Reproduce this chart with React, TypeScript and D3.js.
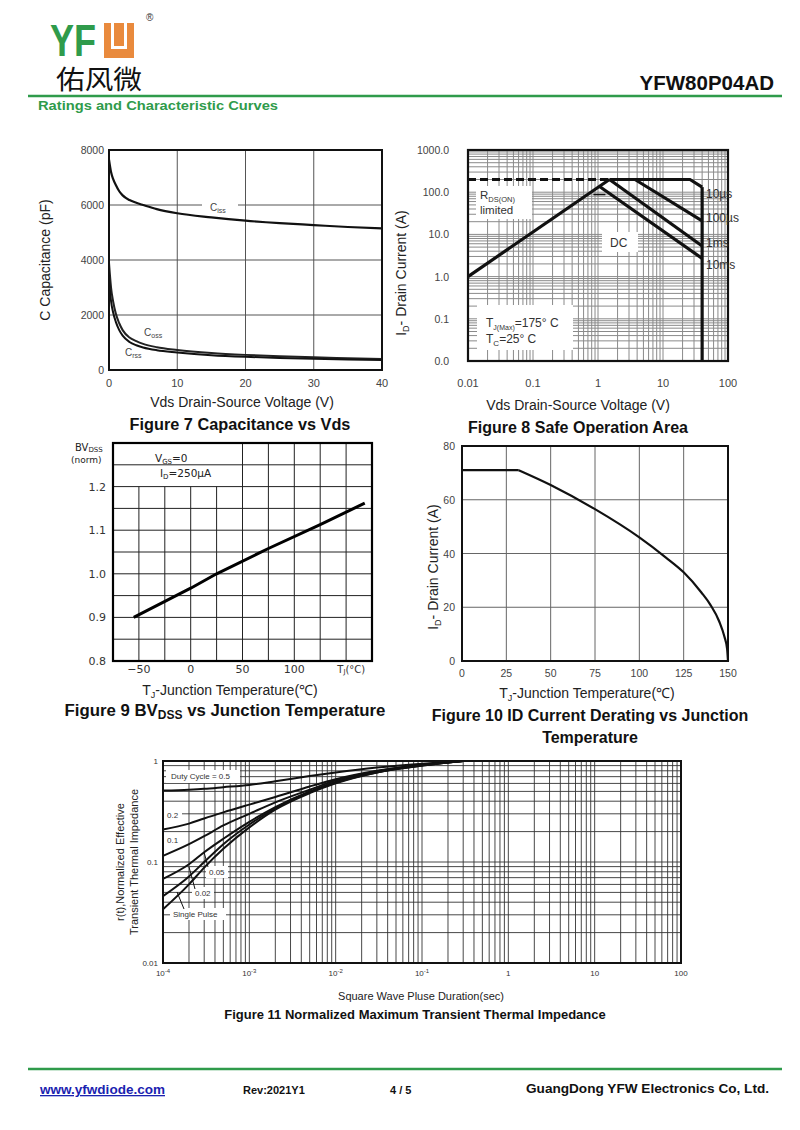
import React from "react";
import * as d3 from "d3";

const SANS = "'Liberation Sans', Arial, Helvetica, sans-serif";
const CJK = "'Noto Sans CJK SC', sans-serif";
const GREEN = "#2f9b4b";
const ORANGE = "#e98a3d";

// Figure 7 - capacitance vs Vds
const capVds = [0, 0.3, 0.6, 1, 1.5, 2, 3, 4, 5, 7, 10, 15, 20, 25, 30, 35, 40];
const capCiss = [7650, 7200, 6950, 6730, 6500, 6350, 6180, 6080, 6000, 5850, 5700, 5550, 5430, 5340, 5270, 5200, 5150];
const capCoss = [3900, 3000, 2500, 2050, 1700, 1450, 1180, 1050, 950, 830, 730, 620, 550, 500, 460, 430, 400];
const capCrss = [3300, 2500, 2100, 1750, 1450, 1250, 1020, 900, 820, 720, 640, 540, 480, 440, 410, 380, 360];
const capXTicks = [0, 10, 20, 30, 40];
const capYTicks = [0, 2000, 4000, 6000, 8000];

// Figure 8 - safe operating area
const soaXTicks = [0.01, 0.1, 1, 10, 100];
const soaXLabels = ["0.01", "0.1", "1", "10", "100"];
const soaYTicks = [0.01, 0.1, 1, 10, 100, 1000];
const soaYLabels = ["0.0", "0.1", "1.0", "10.0", "100.0", "1000.0"];
const soaRdsLimit = [[0.01, 1], [1.5, 200]];
const soaRdsDash = [[0.01, 200], [1.5, 200]];
const soa10us = [[1.5, 200], [26, 200], [40, 132]];
const soa100us = [[3.7, 200], [40, 21]];
const soa1ms = [[1.5, 200], [40, 5.3]];
const soa10ms = [[1.07, 135], [40, 2.7]];
const soaDC = [[0.85, 88], [1.3, 88]];
const soaVmax = [[40, 132], [40, 0.01]];

// Figure 9 - BVdss vs Tj
const bvTemp = [-55, 0, 25, 75, 125, 168];
const bvNorm = [0.9, 0.967, 1.0, 1.058, 1.113, 1.162];
const bvXTicks = [-50, 0, 50, 100];
const bvYTicks = [0.8, 0.9, 1.0, 1.1, 1.2];

// Figure 10 - Id derating
const idTemp = [0, 32, 50, 75, 100, 115, 125, 135, 140, 145, 148, 149.5, 150];
const idAmps = [71, 71, 65.5, 56.5, 46, 38.5, 33, 25.5, 21, 14.8, 9, 4.5, 0];
const idXTicks = [0, 25, 50, 75, 100, 125, 150];
const idYTicks = [0, 20, 40, 60, 80];

// Figure 11 - transient thermal impedance
const zthT = [1e-4, 2e-4, 3e-4, 5e-4, 1e-3, 2e-3, 5e-3, 1e-2, 3e-2, 1e-1, 3e-1];
const zthD50 = [0.51, 0.52, 0.53, 0.55, 0.58, 0.63, 0.71, 0.77, 0.86, 0.94, 1.0];
const zthD20 = [0.21, 0.24, 0.27, 0.31, 0.37, 0.44, 0.56, 0.66, 0.8, 0.92, 1.0];
const zthD10 = [0.115, 0.15, 0.18, 0.23, 0.3, 0.39, 0.52, 0.64, 0.79, 0.91, 1.0];
const zthD05 = [0.068, 0.095, 0.125, 0.17, 0.25, 0.35, 0.5, 0.62, 0.78, 0.91, 1.0];
const zthD02 = [0.046, 0.072, 0.1, 0.15, 0.235, 0.34, 0.49, 0.61, 0.77, 0.9, 1.0];
const zthSingle = [0.034, 0.06, 0.088, 0.135, 0.22, 0.33, 0.48, 0.6, 0.77, 0.9, 1.0];
const zthXTicks = [1e-4, 1e-3, 1e-2, 1e-1, 1, 10, 100];
const zthXBase = ["10", "10", "10", "10", "1", "10", "100"];
const zthXExp = ["-4", "-3", "-2", "-1", "", "", ""];
const zthYTicks = [0.01, 0.1, 1];
const zthYLabels = ["0.01", "0.1", "1"];

function Header() {
  return (
    <g>
      <text x={50} y={56} fontFamily={SANS} fontWeight="bold" fontSize={44} fill={GREEN} textLength={46} lengthAdjust="spacingAndGlyphs">YF</text>
      <rect x={104} y={23} width={30} height={35} fill={ORANGE} />
      <rect x={111} y={23} width={16} height={26} fill="#fff" />
      <rect x={114} y={23} width={10} height={23} fill={ORANGE} />
      <text x={146} y={21} fontFamily={SANS} fontSize={10} fill="#333">®</text>
      <text x={56} y={89} fontFamily={CJK} fontSize={26} fill="#111" textLength={86} lengthAdjust="spacingAndGlyphs">佑风微</text>
      <text x={774} y={90} textAnchor="end" fontFamily={SANS} fontWeight="bold" fontSize={20.5} fill="#111">YFW80P04AD</text>
      <line x1={28} x2={782} y1={96} y2={96} stroke={GREEN} strokeWidth={2.5} />
      <text x={38} y={110} fontFamily={SANS} fontWeight="bold" fontSize={13} fill={GREEN} textLength={240} lengthAdjust="spacingAndGlyphs">Ratings and Characteristic Curves</text>
    </g>
  );
}

function Footer() {
  return (
    <g fontFamily={SANS} fontWeight="bold">
      <line x1={28} x2={782} y1={1069} y2={1069} stroke={GREEN} strokeWidth={2.5} />
      <text x={40} y={1094} fontSize={13} fill="#1a22b0" textDecoration="underline" textLength={125} lengthAdjust="spacingAndGlyphs">www.yfwdiode.com</text>
      <text x={243} y={1094} fontSize={11} fill="#111">Rev:2021Y1</text>
      <text x={390} y={1094} fontSize={11} fill="#111">4 / 5</text>
      <text x={526} y={1093} fontSize={13} fill="#111" textLength={243} lengthAdjust="spacingAndGlyphs">GuangDong YFW Electronics Co, Ltd.</text>
    </g>
  );
}

function Fig7() {
  const x = d3.scaleLinear().domain([0, 40]).range([109, 382]);
  const y = d3.scaleLinear().domain([0, 8000]).range([370, 150]);
  const line = (vals: number[]) =>
    d3.line<number>().x((_, i) => x(capVds[i])).y((d) => y(d)).curve(d3.curveMonotoneX)(vals);
  return (
    <g fontFamily={SANS}>
      {capXTicks.map((t) => (
        <line key={"vx" + t} x1={x(t)} x2={x(t)} y1={y(8000)} y2={y(0)} stroke="#555" />
      ))}
      {capYTicks.map((t) => (
        <line key={"hy" + t} x1={x(0)} x2={x(40)} y1={y(t)} y2={y(t)} stroke="#555" />
      ))}
      <rect x={202} y={200} width={36} height={14} fill="#fff" />
      <text x={210} y={211} fontSize={10} fill="#444">C<tspan fontSize={7} dy={2}>iss</tspan></text>
      <path d={line(capCiss)} fill="none" stroke="#111" strokeWidth={2.2} />
      <path d={line(capCoss)} fill="none" stroke="#222" strokeWidth={2} />
      <path d={line(capCrss)} fill="none" stroke="#111" strokeWidth={2} />
      <text x={144} y={336} fontSize={10} fill="#444">C<tspan fontSize={7} dy={2}>oss</tspan></text>
      <text x={125} y={356} fontSize={10} fill="#444">C<tspan fontSize={7} dy={2}>rss</tspan></text>
      <rect x={x(0)} y={y(8000)} width={x(40) - x(0)} height={y(0) - y(8000)} fill="none" stroke="#111" strokeWidth={2} />
      {capYTicks.map((t) => (
        <text key={"yl" + t} x={104} y={y(t) + 4} textAnchor="end" fontSize={10.5} fill="#444">{t}</text>
      ))}
      {capXTicks.map((t) => (
        <text key={"xl" + t} x={x(t)} y={387} textAnchor="middle" fontSize={11} fill="#444">{t}</text>
      ))}
      <text x={242} y={407} textAnchor="middle" fontSize={14} fill="#222">Vds Drain-Source Voltage (V)</text>
      <text transform="translate(50,260) rotate(-90)" textAnchor="middle" fontSize={14} fill="#222">C Capacitance (pF)</text>
      <text x={240} y={430} textAnchor="middle" fontSize={16.3} fontWeight="bold" fill="#111">Figure 7 Capacitance vs Vds</text>
    </g>
  );
}

function Fig8() {
  const x = d3.scaleLog().domain([0.01, 100]).range([468, 728]);
  const y = d3.scaleLog().domain([0.01, 1000]).range([361, 150]);
  const line = d3.line<number[]>().x((d) => x(d[0])).y((d) => y(d[1]));
  const xg = x.ticks();
  const yg = y.ticks();
  return (
    <g fontFamily={SANS}>
      {xg.map((t, i) => (
        <line key={"gx" + i} x1={x(t)} x2={x(t)} y1={150} y2={361} stroke="#8a8a8a" strokeWidth={1} />
      ))}
      {yg.map((t, i) => (
        <line key={"gy" + i} x1={468} x2={728} y1={y(t)} y2={y(t)} stroke="#8a8a8a" strokeWidth={1} />
      ))}
      <rect x={476} y={186} width={56} height={33} fill="#fff" />
      <rect x={602} y={232} width={36} height={20} fill="#fff" />
      <rect x={477} y={305} width={96} height={45} fill="#fff" />
      <path d={line(soaRdsDash)} fill="none" stroke="#111" strokeWidth={3} strokeDasharray="8,4" />
      <path d={line(soaRdsLimit)} fill="none" stroke="#111" strokeWidth={3.2} />
      <path d={line(soa10us)} fill="none" stroke="#111" strokeWidth={3.2} />
      <path d={line(soa100us)} fill="none" stroke="#111" strokeWidth={3.2} />
      <path d={line(soa1ms)} fill="none" stroke="#111" strokeWidth={3.2} />
      <path d={line(soa10ms)} fill="none" stroke="#111" strokeWidth={3.2} />
      <path d={line(soaDC)} fill="none" stroke="#111" strokeWidth={1.5} />
      <path d={line(soaVmax)} fill="none" stroke="#111" strokeWidth={3.2} />
      <rect x={468} y={150} width={260} height={211} fill="none" stroke="#111" strokeWidth={2.2} />
      <text x={480} y={199} fontSize={11.5} fill="#333">R<tspan fontSize={7.5} dy={3}>DS(ON)</tspan></text>
      <text x={480} y={214} fontSize={11.5} fill="#333">limited</text>
      <text x={610} y={247} fontSize={12} fill="#333">DC</text>
      <text x={486} y={327} fontSize={12} fill="#333">T<tspan fontSize={7} dy={3}>J(Max)</tspan><tspan dy={-3}>=175° C</tspan></text>
      <text x={486} y={343} fontSize={12} fill="#333">T<tspan fontSize={8} dy={3}>C</tspan><tspan dy={-3}>=25° C</tspan></text>
      <text x={706} y={198} fontSize={12} fill="#333">10µs</text>
      <text x={706} y={222} fontSize={12} fill="#333">100µs</text>
      <text x={706} y={247} fontSize={12} fill="#333">1ms</text>
      <text x={706} y={269} fontSize={12} fill="#333">10ms</text>
      {soaYTicks.map((t, i) => (
        <text key={"yl" + i} x={449} y={y(t) + 4} textAnchor="end" fontSize={10.5} fill="#444">{soaYLabels[i]}</text>
      ))}
      {soaXTicks.map((t, i) => (
        <text key={"xl" + i} x={x(t)} y={387} textAnchor="middle" fontSize={11} fill="#444">{soaXLabels[i]}</text>
      ))}
      <text x={578} y={410} textAnchor="middle" fontSize={14} fill="#222">Vds Drain-Source Voltage (V)</text>
      <text transform="translate(406,273) rotate(-90)" textAnchor="middle" fontSize={14} fill="#222">I<tspan fontSize={9} dy={3}>D</tspan><tspan dy={-3}>- Drain Current (A)</tspan></text>
      <text x={578} y={433} textAnchor="middle" fontSize={16} fontWeight="bold" fill="#111">Figure 8 Safe Operation Area</text>
    </g>
  );
}

function Fig9() {
  const x = d3.scaleLinear().domain([-75, 175]).range([113, 372]);
  const y = d3.scaleLinear().domain([0.8, 1.3]).range([661, 443]);
  const vgrid = d3.range(-50, 175, 25);
  const hgrid = d3.range(0.85, 1.3, 0.05);
  const line = d3.line<number>().x((_, i) => x(bvTemp[i])).y((d) => y(d));
  const F9 = "'DejaVu Sans', Verdana, sans-serif";
  return (
    <g fontFamily={F9}>
      {vgrid.map((t) => (
        <line key={"v" + t} x1={x(t)} x2={x(t)} y1={t <= 25 ? y(1.2) : y(1.3)} y2={y(0.8)} stroke="#222" strokeWidth={1} />
      ))}
      {hgrid.map((t, i) => (
        <line key={"h" + i} x1={x(-75)} x2={x(175)} y1={y(t)} y2={y(t)} stroke="#222" strokeWidth={1} />
      ))}
      <path d={line(bvNorm)} fill="none" stroke="#000" strokeWidth={3} />
      <rect x={x(-75)} y={y(1.3)} width={x(175) - x(-75)} height={y(0.8) - y(1.3)} fill="none" stroke="#000" strokeWidth={2.2} />
      <text x={155} y={462} fontSize={10.5} fill="#222">V<tspan fontSize={7} dy={2}>GS</tspan><tspan dy={-2}>=0</tspan></text>
      <text x={160} y={477} fontSize={10.5} fill="#222">I<tspan fontSize={7} dy={2}>D</tspan><tspan dy={-2}>=250µA</tspan></text>
      <text x={75} y={451} fontSize={10} fill="#222">BV<tspan fontSize={7} dy={1}>DSS</tspan></text>
      <text x={71} y={463} fontSize={9} fill="#222">(norm)</text>
      {bvYTicks.map((t) => (
        <text key={"yl" + t} x={106} y={y(t) + 4} textAnchor="end" fontSize={11} fill="#333">{t.toFixed(1)}</text>
      ))}
      {bvXTicks.map((t) => (
        <text key={"xl" + t} x={x(t)} y={673} textAnchor="middle" fontSize={11} fill="#333">{t < 0 ? "−" + Math.abs(t) : t}</text>
      ))}
      <text x={x(155)} y={673} textAnchor="middle" fontSize={10} fill="#333">T<tspan fontSize={7} dy={1}>J</tspan><tspan dy={-1}>(°C)</tspan></text>
      <text x={230} y={695} textAnchor="middle" fontFamily={SANS} fontSize={14} fill="#222">T<tspan fontSize={9} dy={3}>J</tspan><tspan dy={-3}>-Junction Temperature(℃)</tspan></text>
      <text x={225} y={716} textAnchor="middle" fontFamily={SANS} fontSize={16.8} fontWeight="bold" fill="#111">Figure 9 BV<tspan fontSize={12} dy={3}>DSS</tspan><tspan dy={-3}> vs Junction Temperature</tspan></text>
    </g>
  );
}

function Fig10() {
  const x = d3.scaleLinear().domain([0, 150]).range([462, 728]);
  const y = d3.scaleLinear().domain([0, 80]).range([661, 446]);
  // flat current limit, then the thermal derating curve
  const flat = d3.line<number>().x((_, i) => x(idTemp[i])).y((d) => y(d));
  const bend = d3.line<number>().x((_, i) => x(idTemp[i + 1])).y((d) => y(d)).curve(d3.curveMonotoneX);
  return (
    <g fontFamily={SANS}>
      {idXTicks.map((t) => (
        <line key={"v" + t} x1={x(t)} x2={x(t)} y1={y(80)} y2={y(0)} stroke="#666" />
      ))}
      {idYTicks.map((t) => (
        <line key={"h" + t} x1={x(0)} x2={x(150)} y1={y(t)} y2={y(t)} stroke="#666" />
      ))}
      <path d={flat(idAmps.slice(0, 2))} fill="none" stroke="#111" strokeWidth={2.2} />
      <path d={bend(idAmps.slice(1))} fill="none" stroke="#111" strokeWidth={2.2} />
      <rect x={x(0)} y={y(80)} width={x(150) - x(0)} height={y(0) - y(80)} fill="none" stroke="#111" strokeWidth={2} />
      {idYTicks.map((t) => (
        <text key={"yl" + t} x={455} y={y(t) + 4} textAnchor="end" fontSize={10.5} fill="#444">{t}</text>
      ))}
      {idXTicks.map((t) => (
        <text key={"xl" + t} x={x(t)} y={677} textAnchor="middle" fontSize={10.5} fill="#444">{t}</text>
      ))}
      <text x={587} y={698} textAnchor="middle" fontSize={14} fill="#222">T<tspan fontSize={9} dy={3}>J</tspan><tspan dy={-3}>-Junction Temperature(℃)</tspan></text>
      <text transform="translate(438,567) rotate(-90)" textAnchor="middle" fontSize={14} fill="#222">I<tspan fontSize={9} dy={3}>D</tspan><tspan dy={-3}>- Drain Current (A)</tspan></text>
      <text x={590} y={721} textAnchor="middle" fontSize={16} fontWeight="bold" fill="#111">Figure 10 ID Current Derating vs Junction</text>
      <text x={590} y={743} textAnchor="middle" fontSize={16} fontWeight="bold" fill="#111">Temperature</text>
    </g>
  );
}

function Fig11() {
  const x = d3.scaleLog().domain([1e-4, 100]).range([163, 681]);
  const y = d3.scaleLog().domain([0.01, 1]).range([963, 761]);
  const line = d3.line<number>().x((_, i) => x(zthT[i])).y((d) => y(d)).curve(d3.curveMonotoneX);
  const series = [zthD50, zthD20, zthD10, zthD05, zthD02, zthSingle];
  return (
    <g fontFamily={SANS}>
      {x.ticks().map((t, i) => (
        <line key={"v" + i} x1={x(t)} x2={x(t)} y1={761} y2={963} stroke="#333" strokeWidth={0.9} />
      ))}
      {y.ticks().map((t, i) => (
        <line key={"h" + i} x1={163} x2={681} y1={y(t)} y2={y(t)} stroke="#333" strokeWidth={0.9} />
      ))}
      <rect x={166} y={770} width={74} height={13} fill="#fff" />
      <rect x={164} y={809} width={18} height={12} fill="#fff" />
      <rect x={164} y={834} width={16} height={12} fill="#fff" />
      <rect x={206} y={866} width={22} height={12} fill="#fff" />
      <rect x={192} y={887} width={22} height={12} fill="#fff" />
      <rect x={170} y={908} width={56} height={12} fill="#fff" />
      {series.map((s, i) => (
        <path key={"s" + i} d={line(s)} fill="none" stroke="#111" strokeWidth={2} />
      ))}
      <rect x={163} y={761} width={518} height={202} fill="none" stroke="#111" strokeWidth={2} />
      <g fontSize={8} fill="#333">
        <text x={171} y={779}>Duty Cycle = 0.5</text>
        <text x={167} y={818}>0.2</text>
        <text x={167} y={843}>0.1</text>
        <text x={209} y={875}>0.05</text>
        <text x={195} y={896}>0.02</text>
        <text x={173} y={917}>Single Pulse</text>
      </g>
      <g stroke="#111" strokeWidth={1}>
        <line x1={208} y1={867} x2={204} y2={852} />
        <line x1={195} y1={889} x2={189} y2={867} />
        <line x1={184} y1={909} x2={177} y2={892} />
      </g>
      {zthYTicks.map((t, i) => (
        <text key={"yl" + i} x={158} y={y(t) + 3} textAnchor="end" fontSize={8} fill="#333">{zthYLabels[i]}</text>
      ))}
      {zthXTicks.map((t, i) => (
        <text key={"xl" + i} x={x(t)} y={976} textAnchor="middle" fontSize={8} fill="#333">
          {zthXBase[i]}
          {zthXExp[i] && <tspan fontSize={6} dy={-3}>{zthXExp[i]}</tspan>}
        </text>
      ))}
      <text x={421} y={1000} textAnchor="middle" fontSize={11} fill="#222">Square Wave Pluse Duration(sec)</text>
      <text transform="translate(124,862) rotate(-90)" textAnchor="middle" fontSize={11} fill="#222">r(t),Normalized Effective</text>
      <text transform="translate(138,862) rotate(-90)" textAnchor="middle" fontSize={11} fill="#222">Transient Thermal Impedance</text>
      <text x={415} y={1019} textAnchor="middle" fontSize={13} fontWeight="bold" fill="#111">Figure 11 Normalized Maximum Transient Thermal Impedance</text>
    </g>
  );
}

export default function App() {
  return (
    <svg width={800} height={1130} style={{ position: "absolute", left: 0, top: 0, background: "#fff" }}>
      <rect width={800} height={1130} fill="#fff" />
      <Header />
      <Fig7 />
      <Fig8 />
      <Fig9 />
      <Fig10 />
      <Fig11 />
      <Footer />
    </svg>
  );
}
